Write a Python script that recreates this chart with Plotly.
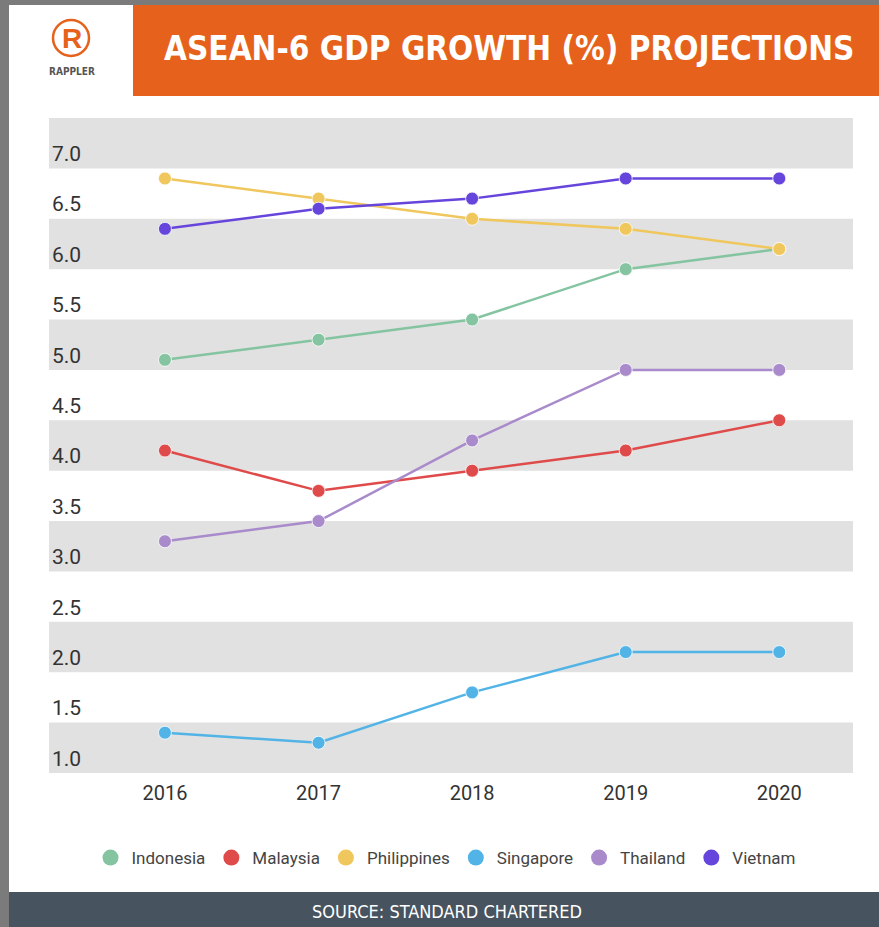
import plotly.graph_objects as go

years = [2016, 2017, 2018, 2019, 2020]
countries = ["Indonesia", "Malaysia", "Philippines", "Singapore", "Thailand", "Vietnam"]
indonesia = [5.1, 5.3, 5.5, 6.0, 6.2]
malaysia = [4.2, 3.8, 4.0, 4.2, 4.5]
philippines = [6.9, 6.7, 6.5, 6.4, 6.2]
singapore = [1.4, 1.3, 1.8, 2.2, 2.2]
thailand = [3.3, 3.5, 4.3, 5.0, 5.0]
vietnam = [6.4, 6.6, 6.7, 6.9, 6.9]
series = [indonesia, malaysia, philippines, singapore, thailand, vietnam]
colors = ["#84c4a0", "#df4a4a", "#f0c75c", "#52b4e6", "#a98bcb", "#6645dc"]
y_ticks = [1.0, 1.5, 2.0, 2.5, 3.0, 3.5, 4.0, 4.5, 5.0, 5.5, 6.0, 6.5, 7.0]
title = "ASEAN-6 GDP GROWTH (%) PROJECTIONS"
source = "SOURCE: STANDARD CHARTERED"

W, H = 879, 927
L, R, T, B = 49, 853, 118, 773

def px(x):
    return (x - L) / (R - L)

def py(y):
    return (B - y) / (B - T)

fig = go.Figure()
for name, vals, c in zip(countries, series, colors):
    fig.add_trace(go.Scatter(
        x=years, y=vals, mode="lines+markers", name=name, showlegend=False,
        line=dict(color=c, width=2.5),
        marker=dict(color=c, size=13, line=dict(color="white", width=0.8)),
        hoverinfo="skip"))
for name, c in zip(countries, colors):
    fig.add_trace(go.Scatter(
        x=[None], y=[None], mode="markers", name=name,
        marker=dict(color=c, size=18)))

shapes = []
shapes.append(dict(type="rect", xref="paper", yref="paper", layer="below",
                   x0=px(9), x1=px(879), y0=py(927), y1=py(5),
                   fillcolor="white", line=dict(width=0)))
shapes.append(dict(type="rect", xref="paper", yref="paper", layer="below",
                   x0=px(133), x1=px(879), y0=py(96), y1=py(5),
                   fillcolor="#e6621c", line=dict(width=0)))
shapes.append(dict(type="rect", xref="paper", yref="paper", layer="below",
                   x0=px(9), x1=px(879), y0=py(927), y1=py(892),
                   fillcolor="#47535f", line=dict(width=0)))
for i in range(0, 13, 2):
    lo = 1.0 + i * 0.5
    shapes.append(dict(type="rect", xref="paper", yref="y", layer="below",
                       x0=0, x1=1, y0=lo, y1=lo + 0.5,
                       fillcolor="#e1e1e1", line=dict(width=0)))
shapes.append(dict(type="circle", xref="paper", yref="paper",
                   x0=px(53), x1=px(89), y0=py(56), y1=py(20),
                   line=dict(color="#e6621c", width=2.5)))

cond = "DejaVu Sans Condensed, Roboto, sans-serif"
annotations = [
    dict(text=title, x=px(509), y=py(48), xref="paper", yref="paper",
         showarrow=False, xanchor="center", yanchor="middle",
         font=dict(family=cond, size=33, color="white", weight="bold")),
    dict(text="<b>R</b>", x=px(72), y=py(38), xref="paper", yref="paper",
         showarrow=False, xanchor="center", yanchor="middle",
         font=dict(family="Liberation Sans, sans-serif", size=28, color="#e6621c")),
    dict(text="<b>RAPPLER</b>", x=px(72), y=py(72), xref="paper", yref="paper",
         showarrow=False, xanchor="center", yanchor="middle",
         font=dict(family=cond, size=10, color="#555")),
    dict(text=source, x=px(447), y=py(911), xref="paper", yref="paper",
         showarrow=False, xanchor="center", yanchor="middle",
         font=dict(family=cond, size=18, color="white")),
]

fig.update_layout(
    width=W, height=H,
    margin=dict(l=L, r=W - R, t=T, b=H - B, pad=0),
    paper_bgcolor="#7b7b7b", plot_bgcolor="rgba(0,0,0,0)",
    shapes=shapes, annotations=annotations,
    font=dict(family="Roboto, sans-serif", color="#333"),
    legend=dict(orientation="h", x=px(445), xanchor="center", y=py(858), yanchor="middle",
                font=dict(size=17, color="#444"), bgcolor="rgba(0,0,0,0)",
                itemwidth=32),
    showlegend=True,
)
fig.update_xaxes(range=[2015.245, 2020.48], tickvals=years, ticktext=[str(y) for y in years],
                 showgrid=False, zeroline=False, showline=False, ticks="",
                 ticklabelstandoff=6,
                 tickfont=dict(size=20, color="#333"), fixedrange=True)
fig.update_yaxes(range=[1.0, 7.5], tickvals=y_ticks, ticktext=[f"{v:.1f}" for v in y_ticks],
                 showgrid=False, zeroline=False, showline=False, ticks="",
                 ticklabelposition="inside top", ticklabelstandoff=0,
                 tickfont=dict(size=21, color="#333"), fixedrange=True)

fig.write_html("out.html")
